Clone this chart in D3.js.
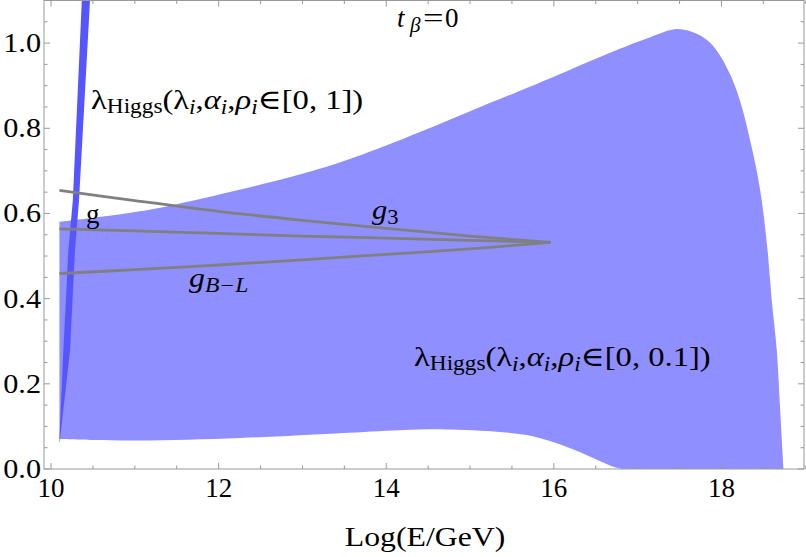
<!DOCTYPE html>
<html>
<head>
<meta charset="utf-8">
<script src="https://cdn.jsdelivr.net/npm/d3@7"></script>
<style>
  html, body { margin: 0; padding: 0; background: #fff; }
  svg { display: block; }
  text { font-family: "Liberation Serif", "DejaVu Serif", serif; }
</style>
</head>
<body>
<svg id="chart" width="806" height="557"></svg>
<script>
// ---- data ----
const xTicks = [10, 12, 14, 16, 18];
const yTicks = [0.0, 0.2, 0.4, 0.6, 0.8, 1.0];

// broad band λ_Higgs(λi,αi,ρi ∈ [0,0.1]) : upper boundary
const bandUpperX = [10.1, 10.6, 11.06, 11.46, 12.26, 13.0, 13.45, 14.16, 15.0, 15.95, 16.35, 16.75, 17.15, 17.47, 17.705, 17.864, 17.983, 18.10, 18.18, 18.26, 18.34, 18.42, 18.48, 18.55, 18.60, 18.66, 18.70, 18.74];
const bandUpperY = [0.580, 0.592, 0.605, 0.620, 0.656, 0.693, 0.720, 0.772, 0.840, 0.917, 0.951, 0.984, 1.014, 1.033, 1.022, 1.001, 0.971, 0.928, 0.889, 0.838, 0.773, 0.701, 0.631, 0.514, 0.396, 0.279, 0.140, 0.0];
// lower boundary
const bandLowerX = [10.1, 10.5, 11.06, 12.26, 13.45, 14.16, 14.7, 15.36, 15.75, 16.15, 16.47, 16.71, 16.81];
const bandLowerY = [0.0703, 0.068, 0.067, 0.073, 0.084, 0.091, 0.093, 0.087, 0.077, 0.0525, 0.026, 0.0054, 0.0];

// narrow wedge λ_Higgs(λi,αi,ρi ∈ [0,1])
const wedgeY      = [0.063, 0.279, 0.5135, 0.631, 1.0996, 1.2];
const wedgeLeftX  = [10.099, 10.147, 10.207, 10.26, 10.367, 10.39];
const wedgeRightX = [10.103, 10.227, 10.286, 10.334, 10.465, 10.49];

// gauge couplings
const gaugeX = [10.1, 11, 12, 13, 14, 15, 15.96];
const g3Y   = [0.654, 0.630, 0.605, 0.584, 0.565, 0.547, 0.532];
const gY    = [0.564, 0.559, 0.553, 0.547, 0.542, 0.537, 0.532];
const gBLY  = [0.459, 0.468, 0.479, 0.491, 0.504, 0.517, 0.532];

// ---- layout ----
const svg = d3.select("#chart");
const L = 44, R = 804, T = 0.5, B = 469;
const x = d3.scaleLinear().domain([9.916, 18.985]).range([L, R]);
const y = d3.scaleLinear().domain([0, 1.1]).range([B, T]);

const frameColor = "#999";

svg.append("defs").append("clipPath").attr("id", "clip")
  .append("rect").attr("x", L).attr("y", T).attr("width", R - L).attr("height", B - T);

const plot = svg.append("g").attr("clip-path", "url(#clip)");

// broad band
const upper = bandUpperX.map((v, i) => [v, bandUpperY[i]]);
const lowerPts = bandLowerX.map((v, i) => [v, bandLowerY[i]]).reverse();
const upperGen = d3.line().x(d => x(d[0])).y(d => y(d[1])).curve(d3.curveCatmullRom.alpha(0.5));
const lowerGen = d3.line().x(d => x(d[0])).y(d => y(d[1])).curve(d3.curveCatmullRom.alpha(0.5));
const upperPath = upperGen(upper);
const lowerPath = lowerGen(lowerPts);
plot.append("path")
  .attr("d", upperPath + "L" + lowerPath.slice(1) + "Z")
  .attr("fill", "#8f8fff");

// wedge
const wedge = wedgeY.map((v, i) => ({ y: v, x0: wedgeLeftX[i], x1: wedgeRightX[i] }));
plot.append("path")
  .attr("d", d3.area().y(d => y(d.y)).x0(d => x(d.x0)).x1(d => x(d.x1))(wedge))
  .attr("fill", "#5656ff");

// gauge lines
const gl = d3.line().x(d => x(d[0])).y(d => y(d[1])).curve(d3.curveCatmullRom);
[g3Y, gY, gBLY].forEach(arr => {
  plot.append("path")
    .attr("d", gl(gaugeX.map((v, i) => [v, arr[i]])))
    .attr("fill", "none").attr("stroke", "#808080").attr("stroke-width", 2.8);
});

// ---- frame and ticks ----
svg.append("rect").attr("x", L).attr("y", T).attr("width", R - L).attr("height", B - T)
  .attr("fill", "none").attr("stroke", frameColor).attr("stroke-width", 1);

const xMinor = d3.range(10, 19.0001, 0.5).filter(v => xTicks.indexOf(v) < 0);
const yMinor = d3.range(0, 1.1001, 0.05).map(v => +v.toFixed(2)).filter(v => !yTicks.some(t => Math.abs(t - v) < 1e-6));

const ticks = svg.append("g").attr("stroke", frameColor).attr("stroke-width", 1);
xTicks.forEach(v => {
  ticks.append("line").attr("x1", x(v)).attr("x2", x(v)).attr("y1", B).attr("y2", B - 6);
  ticks.append("line").attr("x1", x(v)).attr("x2", x(v)).attr("y1", T).attr("y2", T + 6);
});
xMinor.forEach(v => {
  ticks.append("line").attr("x1", x(v)).attr("x2", x(v)).attr("y1", B).attr("y2", B - 3.5);
  ticks.append("line").attr("x1", x(v)).attr("x2", x(v)).attr("y1", T).attr("y2", T + 3.5);
});
yTicks.forEach(v => {
  ticks.append("line").attr("x1", L).attr("x2", L + 6).attr("y1", y(v)).attr("y2", y(v));
  ticks.append("line").attr("x1", R).attr("x2", R - 6).attr("y1", y(v)).attr("y2", y(v));
});
yMinor.forEach(v => {
  ticks.append("line").attr("x1", L).attr("x2", L + 3.5).attr("y1", y(v)).attr("y2", y(v));
  ticks.append("line").attr("x1", R).attr("x2", R - 3.5).attr("y1", y(v)).attr("y2", y(v));
});

// tick labels
const xa = svg.append("g");
xTicks.forEach(v => {
  xa.append("text").attr("x", x(v)).attr("y", 497).attr("text-anchor", "middle")
    .attr("font-size", 27).attr("fill", "#000").text(v);
});
yTicks.forEach(v => {
  xa.append("g").attr("transform", `translate(41,${y(v) + 9}) scale(1.12,1)`)
    .append("text").attr("text-anchor", "end")
    .attr("font-size", 27).attr("fill", "#000").text(d3.format(".1f")(v));
});

// axis title
svg.append("g").attr("transform", "translate(425,546) scale(1.135,1)")
  .append("text").attr("text-anchor", "middle")
  .attr("font-size", 28).attr("fill", "#000").text("Log(E/GeV)");

// ---- annotations ----
function lambdaLabel(xp, yp, range) {
  const t = svg.append("g").attr("transform", `translate(${xp},${yp}) scale(1.165,1)`)
    .append("text").attr("font-size", 28).attr("fill", "#000");
  t.append("tspan").text("λ");
  t.append("tspan").attr("font-size", 20).attr("dy", 4).text("Higgs");
  t.append("tspan").attr("dy", -4).text("(λ");
  t.append("tspan").attr("font-size", 20).attr("dy", 5).attr("font-style", "italic").text("i");
  t.append("tspan").attr("dy", -5).text(",");
  t.append("tspan").attr("font-style", "italic").text("α");
  t.append("tspan").attr("font-size", 20).attr("dy", 5).attr("font-style", "italic").text("i");
  t.append("tspan").attr("dy", -5).text(",");
  t.append("tspan").attr("font-style", "italic").text("ρ");
  t.append("tspan").attr("font-size", 20).attr("dy", 5).attr("font-style", "italic").text("i");
  t.append("tspan").attr("dy", -5).text("∈[" + range + "])");
}
lambdaLabel(91, 109, "0, 1");
lambdaLabel(414, 366, "0, 0.1");

// t_beta = 0
const tbg = svg.append("g");
tbg.append("text").attr("x", 397).attr("y", 27).attr("font-size", 27).attr("font-style", "italic").attr("fill", "#000").text("t");
tbg.append("text").attr("x", 410).attr("y", 32).attr("font-size", 21).attr("font-style", "italic").attr("fill", "#000").text("β");
tbg.append("g").attr("transform", "translate(423,27) scale(1.35,1)")
  .append("text").attr("font-size", 27).attr("fill", "#000").text("=");
tbg.append("text").attr("x", 445).attr("y", 27).attr("font-size", 27).attr("fill", "#000").text("0");

// g
svg.append("text").attr("x", 86).attr("y", 223).attr("font-size", 27).attr("fill", "#000").text("g");

// g3
const g3t = svg.append("g").attr("transform", "translate(372,219) scale(1.13,1)")
  .append("text").attr("font-size", 27).attr("fill", "#000");
g3t.append("tspan").attr("font-style", "italic").text("g");
g3t.append("tspan").attr("font-size", 20).attr("dy", 5).text("3");

// gB-L
const gbl = svg.append("g").attr("transform", "translate(189,287) scale(1.18,1)")
  .append("text").attr("font-size", 27).attr("fill", "#000");
gbl.append("tspan").attr("font-style", "italic").text("g");
gbl.append("tspan").attr("font-size", 20).attr("dy", 5).attr("font-style", "italic").text("B−L");
</script>
</body>
</html>
